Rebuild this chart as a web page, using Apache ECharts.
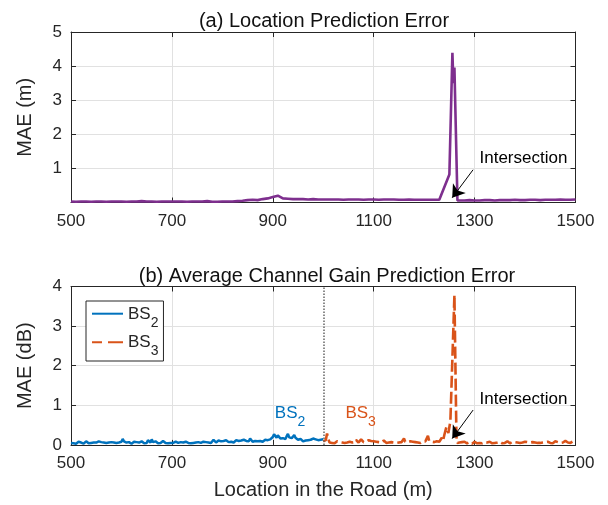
<!DOCTYPE html>
<html>
<head>
<meta charset="utf-8">
<script src="https://cdn.jsdelivr.net/npm/echarts@6/dist/echarts.min.js"></script>
<style>
  html, body { margin: 0; padding: 0; background: #fff; }
  #chart { width: 608px; height: 505px; }
</style>
</head>
<body>
<div id="chart"></div>
<script>
// Road locations (m) are sampled on a regular grid; each run starts at its first location.

// (a) Location MAE (m), 10 m spacing
const locStartA = 500, locStepA = 10;
const maeLocBefore = [
  0.03, 0.02, 0.03, 0.03, 0.02, 0.03, 0.03, 0.02, 0.03, 0.03,
  0.03, 0.02, 0.03, 0.03, 0.04, 0.03, 0.03, 0.02, 0.03, 0.03,
  0.03, 0.03, 0.03, 0.02, 0.03, 0.03, 0.03, 0.04, 0.02, 0.02,
  0.03, 0.03, 0.03, 0.04, 0.05, 0.07, 0.08, 0.07, 0.10, 0.12,
  0.16, 0.20, 0.12, 0.11, 0.10, 0.10, 0.10, 0.09, 0.10, 0.09,
  0.09, 0.09, 0.09, 0.09, 0.08, 0.09, 0.09, 0.09, 0.08, 0.09,
  0.09, 0.08, 0.09, 0.09, 0.09, 0.08, 0.08, 0.09, 0.08, 0.08,
  0.08, 0.08, 0.08, 0.08
];
// burst around the intersection
const spikeLocA = [1250, 1256, 1258, 1260, 1266];
const spikeMaeA = [0.82, 4.39, 3.50, 3.96, 0.06];
const locStartA2 = 1270;
const maeLocAfter = [
  0.06, 0.06, 0.07, 0.06, 0.06, 0.07, 0.07, 0.06, 0.07, 0.07,
  0.07, 0.08, 0.07, 0.07, 0.08, 0.08, 0.07, 0.08, 0.08, 0.08,
  0.09, 0.08, 0.08, 0.09
];

// (b) Average channel gain MAE (dB), 2.5 m spacing
const gainStep = 2.5;
const bs2Start = 500;
const maeBS2 = [
  0.05, 0.07, 0.04, 0.06, 0.03, 0.05, 0.08, 0.04, 0.06, 0.05, 0.03, 0.06, 0.09, 0.05, 0.04, 0.07, 0.05, 0.03, 0.06, 0.04,
  0.06, 0.04, 0.09, 0.05, 0.07, 0.04, 0.06, 0.03, 0.05, 0.08, 0.06, 0.04, 0.07, 0.05, 0.06, 0.10, 0.05, 0.04, 0.06, 0.05,
  0.08, 0.15, 0.09, 0.05, 0.06, 0.04, 0.07, 0.05, 0.03, 0.06, 0.08, 0.05, 0.07, 0.04, 0.06, 0.05, 0.09, 0.06, 0.04, 0.07,
  0.05, 0.12, 0.08, 0.06, 0.14, 0.07, 0.05, 0.09, 0.06, 0.04, 0.07, 0.05, 0.08, 0.10, 0.06, 0.05, 0.07, 0.04, 0.06, 0.05,
  0.07, 0.05, 0.04, 0.08, 0.06, 0.05, 0.03, 0.07, 0.05, 0.06, 0.04, 0.08, 0.06, 0.05, 0.07, 0.04, 0.06, 0.05, 0.03, 0.06,
  0.05, 0.07, 0.09, 0.05, 0.06, 0.08, 0.05, 0.07, 0.10, 0.06, 0.08, 0.05, 0.07, 0.13, 0.09, 0.06, 0.08, 0.11, 0.07, 0.09,
  0.08, 0.10, 0.07, 0.12, 0.09, 0.07, 0.10, 0.08, 0.11, 0.06, 0.09, 0.12, 0.08, 0.10, 0.07, 0.11, 0.09, 0.13, 0.08, 0.10,
  0.12, 0.09, 0.16, 0.11, 0.08, 0.13, 0.10, 0.15, 0.09, 0.12, 0.10, 0.14, 0.08, 0.11, 0.13, 0.09, 0.12, 0.10, 0.14, 0.11,
  0.20, 0.27, 0.22, 0.18, 0.24, 0.19, 0.16, 0.21, 0.17, 0.20, 0.15, 0.22, 0.28, 0.19, 0.23, 0.17, 0.21, 0.25, 0.18, 0.15,
  0.13, 0.10, 0.15, 0.12, 0.09, 0.14, 0.11, 0.08, 0.12, 0.10, 0.13, 0.09, 0.16, 0.11, 0.14, 0.10, 0.12, 0.17, 0.13, 0.15,
  0.14
];
const bs3Start = 1000;
const maeBS3Before = [
  0.09, 0.05, 0.12, 0.29, 0.15, 0.06, 0.08, 0.05, 0.07, 0.04, 0.06, 0.09, 0.05, 0.07, 0.04, 0.06, 0.08, 0.05, 0.07, 0.06,
  0.05, 0.08, 0.11, 0.06, 0.09, 0.07, 0.13, 0.08, 0.06, 0.10, 0.14, 0.09, 0.07, 0.11, 0.08, 0.06, 0.12, 0.08, 0.10, 0.07,
  0.09, 0.06, 0.08, 0.05, 0.07, 0.09, 0.06, 0.08, 0.11, 0.07, 0.05, 0.08, 0.06, 0.04, 0.07, 0.09, 0.06, 0.08, 0.05, 0.07,
  0.06, 0.09, 0.07, 0.10, 0.16, 0.08, 0.06, 0.07, 0.05, 0.09, 0.06, 0.08, 0.05, 0.07, 0.10, 0.06, 0.08, 0.05, 0.07, 0.09,
  0.06, 0.09, 0.12, 0.23, 0.10, 0.07, 0.08, 0.05, 0.07, 0.06, 0.09, 0.06, 0.08, 0.12, 0.18, 0.11, 0.25
];
const spikeLocB = [1244, 1248, 1252, 1260, 1264, 1266];
const spikeMaeB = [0.45, 0.30, 0.60, 3.78, 0.20, 0.05];
const bs3Start2 = 1270;
const maeBS3After = [
  0.06, 0.04, 0.07, 0.05, 0.08, 0.05, 0.04, 0.06, 0.07, 0.05, 0.03, 0.06, 0.08, 0.05, 0.04, 0.07, 0.05, 0.06, 0.04, 0.05,
  0.07, 0.04, 0.06, 0.05, 0.08, 0.06, 0.04, 0.07, 0.05, 0.03, 0.06, 0.05, 0.08, 0.06, 0.04, 0.07, 0.05, 0.06, 0.09, 0.05,
  0.04, 0.06, 0.08, 0.05, 0.07, 0.04, 0.06, 0.09, 0.05, 0.07, 0.06, 0.04, 0.08, 0.05, 0.07, 0.10, 0.06, 0.05, 0.07, 0.04,
  0.06, 0.08, 0.05, 0.07, 0.05, 0.09, 0.06, 0.04, 0.07, 0.05, 0.08, 0.06, 0.05, 0.07, 0.04, 0.06, 0.09, 0.05, 0.07, 0.06,
  0.05, 0.08, 0.06, 0.07, 0.10, 0.05, 0.06, 0.08, 0.05, 0.07, 0.09, 0.06, 0.05
];

function run(start, step, values) {
  return values.map((v, i) => [start + i * step, v]);
}
function zipPairs(xs, ys) {
  return xs.map((x, i) => [x, ys[i]]);
}

const locSeries = run(locStartA, locStepA, maeLocBefore)
  .concat(zipPairs(spikeLocA, spikeMaeA))
  .concat(run(locStartA2, locStepA, maeLocAfter));
const bs2Series = run(bs2Start, gainStep, maeBS2);
const bs3Series = run(bs3Start, gainStep, maeBS3Before)
  .concat(zipPairs(spikeLocB, spikeMaeB))
  .concat(run(bs3Start2, gainStep, maeBS3After));

const FONT = "'Liberation Sans', Arial, Helvetica, sans-serif";
const INK = '#262626';
const GRID = '#e1e1e1';
const C_LOC = '#7E2F8E', C_BS2 = '#0072BD', C_BS3 = '#D95319';

// subscript rich-text styles for "BS_n"
function subRich(color) {
  return {
    b: { fontSize: 17, lineHeight: 20, padding: [2, 0, 0, 0], verticalAlign: 'top', color: color, fontFamily: FONT },
    s: { fontSize: 14, lineHeight: 16, padding: [12, 0, 0, 0], verticalAlign: 'top', color: color, fontFamily: FONT }
  };
}
function bsText(name) {
  return '{b|BS}{s|' + name.slice(2) + '}';
}

function xAxisPair(gridIndex, withName) {
  const common = {
    type: 'value', gridIndex: gridIndex, min: 500, max: 1500, interval: 200,
    axisLine: { show: true, onZero: false, lineStyle: { color: INK, width: 1 } },
    axisTick: { show: true, inside: true, length: 5, lineStyle: { color: INK } }
  };
  const bottom = Object.assign({}, common, {
    position: 'bottom',
    axisLabel: { show: true, fontSize: 17, color: INK, margin: 10, fontFamily: FONT, formatter: v => String(v) },
    splitLine: { show: true, lineStyle: { color: GRID, width: 1 } }
  });
  if (withName) {
    Object.assign(bottom, {
      name: 'Location in the Road (m)', nameLocation: 'middle', nameGap: 36,
      nameTextStyle: { fontSize: 20, color: INK, fontFamily: FONT }
    });
  }
  const top = Object.assign({}, common, {
    position: 'top', axisLabel: { show: false }, splitLine: { show: false }
  });
  return [bottom, top];
}

function yAxisPair(gridIndex, max, name, hideZero) {
  const common = {
    type: 'value', gridIndex: gridIndex, min: 0, max: max, interval: 1,
    axisLine: { show: true, onZero: false, lineStyle: { color: INK, width: 1 } },
    axisTick: { show: true, inside: true, length: 5, lineStyle: { color: INK } }
  };
  const left = Object.assign({}, common, {
    position: 'left',
    name: name, nameLocation: 'middle', nameGap: 36,
    nameTextStyle: { fontSize: 20, color: INK, fontFamily: FONT },
    axisLabel: {
      show: true, fontSize: 17, color: INK, margin: 9, fontFamily: FONT,
      formatter: v => (hideZero && v === 0) ? '' : String(v)
    },
    splitLine: { show: true, lineStyle: { color: GRID, width: 1 } }
  });
  const right = Object.assign({}, common, {
    position: 'right', axisLabel: { show: false }, splitLine: { show: false }
  });
  return [left, right];
}

function intersectionNote(textAt, from, to) {
  return {
    markLine: {
      silent: true, animation: false,
      symbol: ['none', 'arrow'], symbolSize: 12,
      label: { show: false },
      lineStyle: { color: '#000', width: 1, type: 'solid' },
      itemStyle: { color: '#000' },
      emphasis: { disabled: true },
      data: [[{ coord: from }, { coord: to }]]
    },
    markPoint: {
      silent: true, animation: false,
      symbol: 'circle', symbolSize: 1,
      itemStyle: { color: 'rgba(0,0,0,0)' },
      label: {
        show: true, position: 'right', distance: 0,
        formatter: 'Intersection', color: '#000', fontSize: 17, fontFamily: FONT
      },
      data: [{ coord: textAt }]
    }
  };
}

const [xa0, xa1] = xAxisPair(0, false);
const [xb0, xb1] = xAxisPair(1, true);
const [ya0, ya1] = yAxisPair(0, 5, 'MAE (m)', true);
const [yb0, yb1] = yAxisPair(1, 4, 'MAE (dB)', false);

const noteA = intersectionNote([1308.7, 1.30], [1297, 0.96], [1255.6, 0.14]);
const noteB = intersectionNote([1308.7, 1.15], [1297, 0.88], [1255.6, 0.16]);

const chart = echarts.init(document.getElementById('chart'), null, { renderer: 'canvas' });
chart.setOption({
  animation: false,
  backgroundColor: '#fff',
  textStyle: { fontFamily: FONT },
  title: [
    { text: '(a) Location Prediction Error', left: 319, top: 6, textAlign: 'center',
      textStyle: { fontSize: 20, fontWeight: 'normal', color: '#111', fontFamily: FONT } },
    { text: '(b) Average Channel Gain Prediction Error', left: 322, top: 261, textAlign: 'center',
      textStyle: { fontSize: 20, fontWeight: 'normal', color: '#111', fontFamily: FONT } }
  ],
  grid: [
    { left: 71, right: 32.5, top: 32, height: 170.5 },
    { left: 71, right: 32.5, top: 286.5, height: 158.4 }
  ],
  legend: {
    show: true, orient: 'vertical', left: 86, top: 301,
    padding: [2.7, 5, 2.7, 5], itemGap: 2.6,
    itemWidth: 31, itemHeight: 14,
    borderColor: INK, borderWidth: 1, backgroundColor: '#fff',
    itemStyle: { opacity: 0 },
    data: ['BS2', { name: 'BS3', lineStyle: { type: [10, 6, 15, 40] } }],
    formatter: bsText,
    textStyle: { rich: subRich(INK) }
  },
  xAxis: [xa0, xa1, xb0, xb1],
  yAxis: [ya0, ya1, yb0, yb1],
  series: [
    Object.assign({
      name: 'Location', type: 'line', xAxisIndex: 0, yAxisIndex: 0,
      data: locSeries, symbol: 'none', clip: false,
      lineStyle: { color: C_LOC, width: 2.6 }, itemStyle: { color: C_LOC }
    }, noteA),
    {
      name: 'BS2', type: 'line', xAxisIndex: 2, yAxisIndex: 2,
      data: bs2Series, symbol: 'none', clip: false,
      lineStyle: { color: C_BS2, width: 2.5 }, itemStyle: { color: C_BS2 },
      markLine: {
        silent: true, animation: false, symbol: ['none', 'none'],
        label: { show: false },
        lineStyle: { color: '#666', width: 1.5, type: [1.5, 1.5] },
        emphasis: { disabled: true },
        data: [{ xAxis: 1000 }]
      },
      markPoint: {
        silent: true, animation: false, symbol: 'circle', symbolSize: 1,
        itemStyle: { color: 'rgba(0,0,0,0)' },
        label: { show: true, position: 'right', distance: 0, formatter: bsText('BS2'), rich: subRich(C_BS2) },
        data: [{ coord: [903, 0.81] }]
      }
    },
    {
      name: 'BS3', type: 'line', xAxisIndex: 2, yAxisIndex: 2,
      data: bs3Series, symbol: 'none', clip: false,
      lineStyle: { color: C_BS3, width: 2.6, type: [12, 4] }, itemStyle: { color: C_BS3 },
      markLine: noteB.markLine,
      markPoint: {
        silent: true, animation: false, symbol: 'circle', symbolSize: 1,
        itemStyle: { color: 'rgba(0,0,0,0)' },
        label: { show: true, position: 'right', distance: 0, formatter: bsText('BS3'), rich: subRich(C_BS3) },
        data: [{ coord: [1043, 0.81] }]
      }
    },
    // carries the second "Intersection" caption in panel (b)
    {
      name: 'noteB', type: 'line', xAxisIndex: 2, yAxisIndex: 2, data: [],
      markPoint: noteB.markPoint
    }
  ]
});
</script>
</body>
</html>
